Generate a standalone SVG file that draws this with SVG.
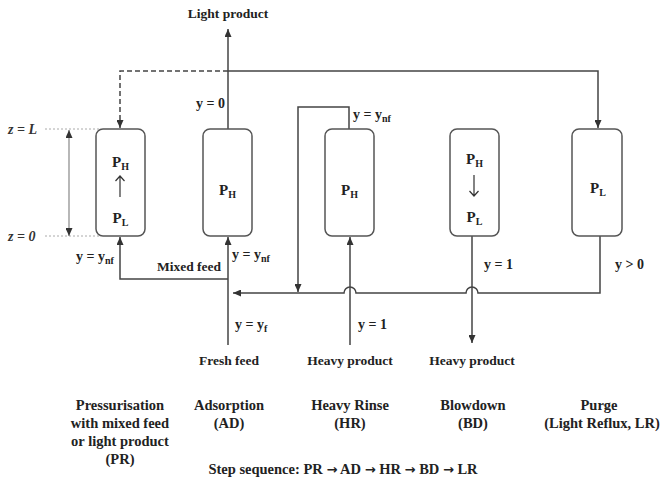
<svg xmlns="http://www.w3.org/2000/svg" width="662" height="480" viewBox="0 0 662 480">
<defs>
<marker id="ah" viewBox="0 0 8 7" markerWidth="8" markerHeight="7" refX="8" refY="3.5" orient="auto" markerUnits="userSpaceOnUse"><path d="M0,0 L8,3.5 L0,7 z" fill="#333"/></marker>
<marker id="ahg" viewBox="0 0 8 7" markerWidth="8" markerHeight="7" refX="8" refY="3.5" orient="auto-start-reverse" markerUnits="userSpaceOnUse"><path d="M0,0 L8,3.5 L0,7 z" fill="#333"/></marker>
<style>
.col{fill:#fff;stroke:#555;stroke-width:1.5}
.ln{fill:none;stroke:#444;stroke-width:1.5}
.t{font-family:"Liberation Serif","Times New Roman",serif;font-weight:bold;fill:#222}
.lab{font-size:13.5px}
.y{font-size:14px}
.p{font-size:15px;text-anchor:middle}
.s{font-size:10px}
.step{font-size:14.5px;text-anchor:middle}
.ar{font-family:"DejaVu Sans",sans-serif;font-weight:bold;font-size:13px}
.z{font-family:"Liberation Serif",serif;font-style:italic;font-weight:bold;font-size:14px;fill:#333}
</style>
</defs>
<rect width="662" height="480" fill="#fff"/>

<g id="connectors">
<line class="ln" x1="228" y1="129" x2="228" y2="29" marker-end="url(#ah)"/>
<path class="ln" d="M228,71 H598 V128" marker-end="url(#ah)"/>
<path class="ln" d="M228,71 H120 V128" stroke-dasharray="5 3" marker-end="url(#ah)"/>
<path class="ln" d="M349,129 V107 H298 V292" marker-end="url(#ah)"/>
<path class="ln" d="M600,236 V293 H478 A6,6 0 0 0 466,293 H356 A6,6 0 0 0 344,293 H233" marker-end="url(#ah)"/>
<line class="ln" x1="472" y1="236" x2="472" y2="343" marker-end="url(#ah)"/>
<line class="ln" x1="350" y1="345" x2="350" y2="237" marker-end="url(#ah)"/>
<line class="ln" x1="228" y1="345" x2="228" y2="237" marker-end="url(#ah)"/>
<path class="ln" d="M228,279 H120 V237" marker-end="url(#ah)"/>
<line x1="45" y1="129" x2="100" y2="129" stroke="#aaa" stroke-width="1" stroke-dasharray="2 2"/>
<line x1="45" y1="236" x2="100" y2="236" stroke="#aaa" stroke-width="1" stroke-dasharray="2 2"/>
<line x1="69" y1="130" x2="69" y2="236" stroke="#888" stroke-width="1.2" marker-start="url(#ahg)" marker-end="url(#ahg)"/>
</g>

<g id="PR">
<rect class="col" x="96" y="129" width="49" height="107" rx="7"/>
<text class="t p" x="120.5" y="167">P<tspan class="s" dy="3">H</tspan></text>
<path d="M120,197 V176 M115.5,181 L120,176 L124.5,181" fill="none" stroke="#333" stroke-width="1.2"/>
<text class="t p" x="120.5" y="223">P<tspan class="s" dy="3">L</tspan></text>
</g>
<g id="AD">
<rect class="col" x="203" y="129" width="49" height="107" rx="7"/>
<text class="t p" x="227.5" y="195">P<tspan class="s" dy="3">H</tspan></text>
</g>
<g id="HR">
<rect class="col" x="325" y="129" width="49" height="107" rx="7"/>
<text class="t p" x="349.5" y="195">P<tspan class="s" dy="3">H</tspan></text>
</g>
<g id="BD">
<rect class="col" x="450" y="129" width="49" height="107" rx="7"/>
<text class="t p" x="474.5" y="164">P<tspan class="s" dy="3">H</tspan></text>
<path d="M474,175 V196 M469.5,191 L474,196 L478.5,191" fill="none" stroke="#333" stroke-width="1.2"/>
<text class="t p" x="474.5" y="222">P<tspan class="s" dy="3">L</tspan></text>
</g>
<g id="LR">
<rect class="col" x="572" y="129" width="50" height="107" rx="7"/>
<text class="t p" x="598" y="193">P<tspan class="s" dy="3">L</tspan></text>
</g>

<g id="labels">
<text class="t lab" x="228" y="18" text-anchor="middle">Light product</text>
<text class="t y" x="225" y="108" text-anchor="end">y = 0</text>
<text class="t y" x="353" y="119">y = y<tspan class="s" dy="3">nf</tspan></text>
<text class="t y" x="76" y="261">y = y<tspan class="s" dy="3">nf</tspan></text>
<text class="t lab" x="221" y="271" text-anchor="end">Mixed feed</text>
<text class="t y" x="232" y="259">y = y<tspan class="s" dy="3">nf</tspan></text>
<text class="t y" x="235" y="329">y = y<tspan class="s" dy="3">f</tspan></text>
<text class="t lab" x="229" y="365" text-anchor="middle">Fresh feed</text>
<text class="t y" x="358" y="329">y = 1</text>
<text class="t lab" x="350" y="365" text-anchor="middle">Heavy product</text>
<text class="t y" x="484" y="269">y = 1</text>
<text class="t lab" x="472" y="365" text-anchor="middle">Heavy product</text>
<text class="t y" x="615" y="269">y &gt; 0</text>
<text class="z" x="8" y="134">z = L</text>
<text class="z" x="8" y="241">z = 0</text>
</g>

<g id="steps">
<text class="t step" x="120" y="410">Pressurisation</text>
<text class="t step" x="120" y="428">with mixed feed</text>
<text class="t step" x="120" y="446">or light product</text>
<text class="t step" x="120" y="464">(PR)</text>
<text class="t step" x="229" y="410">Adsorption</text>
<text class="t step" x="229" y="428">(AD)</text>
<text class="t step" x="350" y="410">Heavy Rinse</text>
<text class="t step" x="350" y="428">(HR)</text>
<text class="t step" x="473" y="410">Blowdown</text>
<text class="t step" x="473" y="428">(BD)</text>
<text class="t step" x="599" y="410">Purge</text>
<text class="t step" x="602" y="428">(Light Reflux, LR)</text>
<text class="t step" x="343" y="474">Step sequence: PR <tspan class="ar">→</tspan> AD <tspan class="ar">→</tspan> HR <tspan class="ar">→</tspan> BD <tspan class="ar">→</tspan> LR</text>
</g>
</svg>
